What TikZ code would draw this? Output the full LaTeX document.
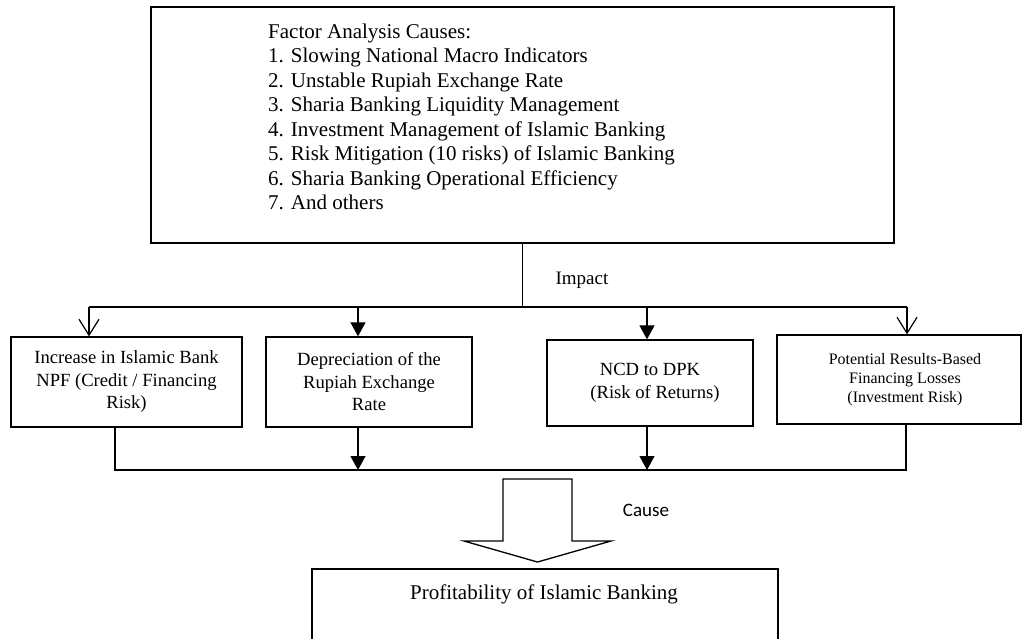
\documentclass[tikz,border=0pt]{standalone}
\usepackage{fontspec}
\setmainfont{Liberation Serif}
\newfontfamily\labelsans{Carlito}
\usetikzlibrary{arrows.meta}
\begin{document}
\begin{tikzpicture}[x=1pt,y=-1pt,
  box/.style={draw, line width=1.3pt, inner sep=0pt, align=center},
  link/.style={line width=1.2pt},
  solidtip/.style={link, -{Triangle[length=14pt,width=15pt]}},
  opentip/.style={link, -{Straight Barb[length=16pt,width=20pt]}},
  boxfont/.style={font=\fontsize{18.6}{22.5}\selectfont},
  smallfont/.style={font=\fontsize{16}{18.7}\selectfont},
  ]
\useasboundingbox (0,0) rectangle (1023,638);
\clip (0,0) rectangle (1023,638);

% list of causes
\node[box, minimum width=743pt, minimum height=236pt] (top) at (522.5,125) {};
\node[anchor=north west, inner sep=0pt, align=left,
      font=\fontsize{21}{24.5}\selectfont] (factors) at (268,23.5)
  {Factor Analysis Causes:\\
   1. Slowing National Macro Indicators\\
   2. Unstable Rupiah Exchange Rate\\
   3. Sharia Banking Liquidity Management\\
   4. Investment Management of Islamic Banking\\
   5. Risk Mitigation (10 risks) of Islamic Banking\\
   6. Sharia Banking Operational Efficiency\\
   7. And others};

% impacts
\node[box, boxfont, minimum width=231pt, minimum height=90pt] (b1) at (126.5,382)
  {Increase in Islamic Bank\\NPF (Credit / Financing\\Risk)};
\node[box, boxfont, minimum width=206pt, minimum height=90pt] (b2) at (369,382)
  {Depreciation of the\\Rupiah Exchange\\Rate};
\node[box, boxfont, minimum width=206pt, minimum height=86pt] (b3) at (650,383)
  {NCD to DPK\\\hspace*{10pt}(Risk of Returns)};
\node[box, smallfont, minimum width=244pt, minimum height=89pt] (b4) at (899,379.5)
  {\hspace*{12pt}Potential Results-Based\\\hspace*{12pt}Financing Losses\\\hspace*{12pt}(Investment Risk)};

% result
\node[box, minimum width=466pt, minimum height=100pt] (bot) at (545,619) {};
\node[inner sep=0pt, font=\fontsize{21}{25}\selectfont] (bottext) at (544,594)
  {Profitability of Islamic Banking};

% labels
\node[inner sep=0pt, font=\fontsize{19}{22}\selectfont] (impact) at (582,280) {Impact};
\node[inner sep=0pt, font=\labelsans\fontsize{19}{22}\selectfont] (cause) at (646,510) {Cause};

% branching from the causes to the impacts
\coordinate (split) at (top.south |- 0,307);
\coordinate (hl) at (89,307);
\coordinate (hr) at (907,307);
\coordinate (d2) at (358,307);
\coordinate (d3) at (647,307);
\draw[link] (top.south) -- (split);
\draw[link] (hl) -- (hr);
\draw[opentip] (hl) -- (hl |- b1.north);
\draw[solidtip] (d2) -- (d2 |- b2.north);
\draw[solidtip] (d3) -- (d3 |- b3.north);
\draw[opentip] (hr) -- (hr |- b4.north);

% collecting line under the impacts
\coordinate (ll) at (115,470);
\coordinate (lr) at (906,470);
\coordinate (u2) at (358,470);
\coordinate (u3) at (647,470);
\draw[link] (ll |- b1.south) -- (ll) -- (lr) -- (lr |- b4.south);
\draw[solidtip] (u2 |- b2.south) -- (u2);
\draw[solidtip] (u3 |- b3.south) -- (u3);

% block arrow towards profitability
\draw[line width=1.3pt, fill=white]
  (503,479) -- (572,479) -- (572,541) -- (611,541) -- (537.5,562)
  -- (464,541) -- (503,541) -- cycle;
\end{tikzpicture}
\end{document}
